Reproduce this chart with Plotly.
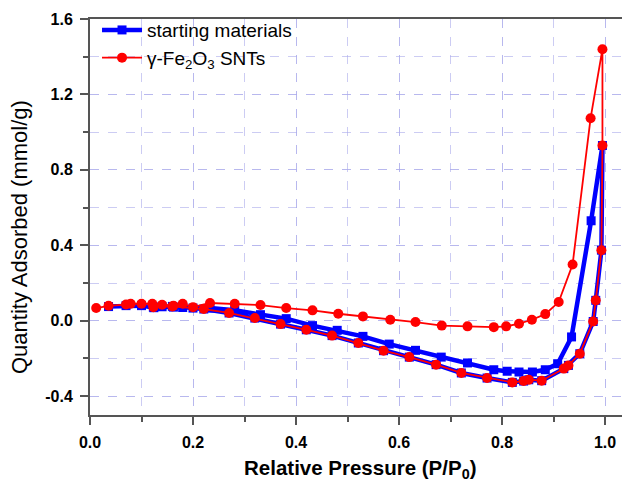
import plotly.graph_objects as go

# starting materials (blue): adsorption branch then desorption branch
blue_ads_x = [0.036, 0.07, 0.10, 0.124, 0.14, 0.162, 0.18, 0.20, 0.233, 0.281, 0.331, 0.381,
              0.432, 0.48, 0.53, 0.581, 0.632, 0.682, 0.733, 0.784, 0.81, 0.833, 0.859,
              0.884, 0.908, 0.935, 0.973, 0.995]
blue_ads_y = [0.075, 0.08, 0.08, 0.069, 0.074, 0.072, 0.07, 0.067, 0.067, 0.055, 0.032, 0.011,
              -0.026, -0.051, -0.083, -0.124, -0.157, -0.193, -0.224, -0.26, -0.268, -0.272, -0.272,
              -0.26, -0.228, -0.086, 0.53, 0.929]
blue_des_x = [0.993, 0.982, 0.977, 0.951, 0.929, 0.92, 0.877, 0.852, 0.842, 0.82, 0.771, 0.721,
              0.672, 0.62, 0.57, 0.521, 0.47, 0.42, 0.37, 0.32, 0.27, 0.221, 0.16, 0.123]
blue_des_y = [0.374, 0.108, -0.004, -0.175, -0.237, -0.254, -0.318, -0.313, -0.32, -0.327, -0.304, -0.277,
              -0.233, -0.193, -0.159, -0.118, -0.079, -0.048, -0.018, 0.014, 0.041, 0.062, 0.076, 0.072]

# gamma-Fe2O3 SNTs (red): adsorption branch then desorption branch
red_ads_x = [0.012, 0.036, 0.07, 0.079, 0.10, 0.121, 0.14, 0.162, 0.18, 0.20, 0.233, 0.281,
             0.331, 0.381, 0.432, 0.482, 0.53, 0.583, 0.632, 0.683, 0.733, 0.784, 0.808,
             0.833, 0.858, 0.884, 0.91, 0.937, 0.972, 0.995]
red_ads_y = [0.067, 0.079, 0.086, 0.09, 0.09, 0.09, 0.085, 0.079, 0.09, 0.072, 0.094, 0.09,
             0.083, 0.067, 0.055, 0.037, 0.023, 0.005, -0.007, -0.026, -0.030, -0.034, -0.030,
             -0.016, 0.005, 0.035, 0.099, 0.298, 1.074, 1.44]
red_des_x = [0.995, 0.993, 0.982, 0.977, 0.951, 0.929, 0.92, 0.877, 0.852, 0.842, 0.82, 0.771,
             0.721, 0.672, 0.62, 0.57, 0.521, 0.47, 0.42, 0.37, 0.32, 0.27, 0.221, 0.16, 0.123]
red_des_y = [0.929, 0.374, 0.108, -0.004, -0.175, -0.237, -0.254, -0.318, -0.313, -0.32, -0.327, -0.304,
             -0.277, -0.233, -0.193, -0.159, -0.118, -0.079, -0.048, -0.018, 0.014, 0.041, 0.062, 0.076, 0.072]

series_names = ["starting materials", "γ-Fe<sub>2</sub>O<sub>3</sub> SNTs"]

x_ticks = [0.0, 0.2, 0.4, 0.6, 0.8, 1.0]
y_ticks = [-0.4, 0.0, 0.4, 0.8, 1.2, 1.6]

x_title = "<b>Relative Pressure (P/P<sub>0</sub>)</b>"
y_title = "Quantity Adsorbed (mmol/g)"

font_family = "Arial, Liberation Sans, sans-serif"

fig = go.Figure()
fig.add_trace(go.Scatter(
    x=blue_ads_x + blue_des_x, y=blue_ads_y + blue_des_y,
    mode="lines+markers", name=series_names[0],
    line=dict(color="#0000ff", width=4.5),
    marker=dict(symbol="square", size=9, color="#0000ff"),
))
fig.add_trace(go.Scatter(
    x=red_ads_x + red_des_x, y=red_ads_y + red_des_y,
    mode="lines+markers", name=series_names[1],
    line=dict(color="#ff0000", width=1.8),
    marker=dict(symbol="circle", size=10, color="#ff0000"),
))

grid_color = "rgba(170,170,235,0.6)"
tick_font = dict(size=16, family=font_family, color="black", weight="bold")

# page has an 8px body margin, so the figure is sized to fit inside the window
W, H = 622, 472
L, R, T, B = 82, 0, 11, 65
PW, PH = W - L - R, H - T - B

fig.update_layout(
    width=W, height=H,
    margin=dict(l=L, r=R, t=T, b=B, autoexpand=False),
    paper_bgcolor="white", plot_bgcolor="white",
    font=dict(family=font_family, color="black"),
    showlegend=True,
    legend=dict(x=0.013, y=1.02, xanchor="left", yanchor="top",
                bgcolor="rgba(0,0,0,0)", font=dict(size=19, color="black", family=font_family),
                tracegroupgap=0, itemwidth=40),
    xaxis=dict(
        range=[0, 1.0485], tickvals=x_ticks, ticktext=[f"{v:.1f}" for v in x_ticks],
        ticks="outside", ticklen=8, tickwidth=1.5, tickcolor="#555",
        tickfont=tick_font, automargin=False, ticklabelstandoff=4,
        showline=True, linecolor="#555", linewidth=2, mirror=True,
        showgrid=True, gridcolor=grid_color, griddash="dash", gridwidth=1,
        zeroline=False,
        minor=dict(dtick=0.1, tick0=0, ticks="outside", ticklen=5, tickcolor="#555",
                   showgrid=True, gridcolor=grid_color, griddash="dash", gridwidth=1),
    ),
    yaxis=dict(
        range=[-0.5, 1.6], tickvals=y_ticks, ticktext=[f"{v:.1f}" for v in y_ticks],
        ticks="outside", ticklen=8, tickwidth=1.5, tickcolor="#555",
        tickfont=tick_font, automargin=False, ticklabelstandoff=4,
        showline=True, linecolor="#555", linewidth=2, mirror=False,
        showgrid=True, gridcolor=grid_color, griddash="dash", gridwidth=1,
        zeroline=False,
        minor=dict(dtick=0.2, tick0=0, ticks="outside", ticklen=5, tickcolor="#555",
                   showgrid=True, gridcolor=grid_color, griddash="dash", gridwidth=1),
    ),
    annotations=[
        dict(text=x_title, xref="paper", yref="paper", x=(360 - 90) / PW, y=-54 / PH,
             xanchor="center", yanchor="middle", showarrow=False,
             font=dict(size=20.5, family=font_family, color="black")),
        dict(text=y_title, xref="paper", yref="paper", x=-71 / PW, y=(415 - 237) / PH,
             xanchor="center", yanchor="middle", showarrow=False, textangle=-90,
             font=dict(size=22, family=font_family, color="black")),
    ],
)

fig.write_html("out.html")
